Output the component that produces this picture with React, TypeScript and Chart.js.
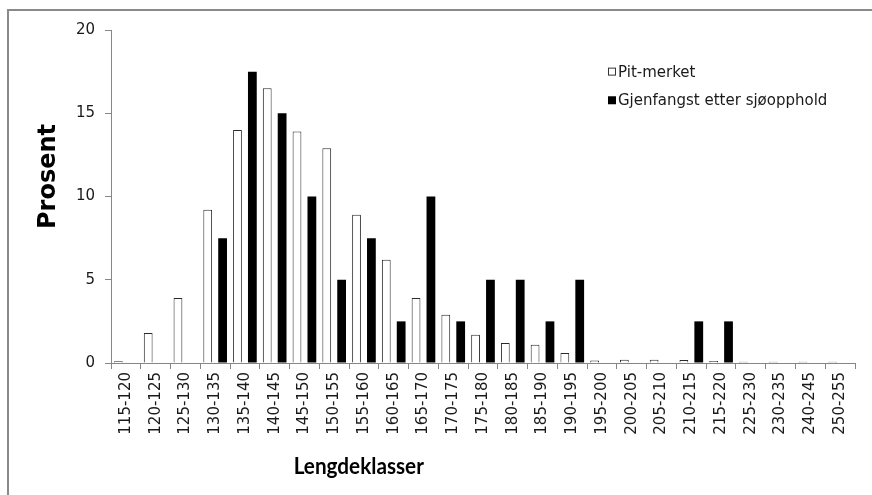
import React, { useEffect, useRef } from "react";
import { Chart, registerables } from "chart.js";

Chart.register(...registerables);

const categories = ["115-120","120-125","125-130","130-135","135-140","140-145","145-150","150-155","155-160","160-165","165-170","170-175","175-180","180-185","185-190","190-195","195-200","200-205","205-210","210-215","215-220","225-230","230-235","240-245","250-255"];
const pitMerket = [0.1,1.8,3.9,9.2,14.0,16.5,13.9,12.9,8.9,6.2,3.9,2.9,1.7,1.2,1.1,0.6,0.15,0.2,0.2,0.18,0.12,0.07,0.07,0.07,0.07];
const gjenfangst = [0,0,0,7.5,17.5,15.0,10.0,5.0,7.5,2.5,10.0,2.5,5.0,5.0,2.5,5.0,0,0,0,2.5,2.5,0,0,0,0];
const seriesNames = ["Pit-merket", "Gjenfangst etter sjøopphold"];
const yTitle = "Prosent";
const xTitle = "Lengdeklasser";

const AXIS = "#868686";
const TEXT = "#1a1a1a";

const decorPlugin = {
  id: "decor",
  beforeDraw(chart: any) {
    const ctx = chart.ctx;
    ctx.save();
    ctx.fillStyle = "#fff";
    ctx.fillRect(0, 0, chart.width, chart.height);
    ctx.strokeStyle = "#8a8a8a";
    ctx.lineWidth = 2;
    ctx.strokeRect(8, 10, chart.width + 50, chart.height + 50);
    ctx.restore();
  },
  afterDraw(chart: any) {
    const ctx = chart.ctx;
    const a = chart.chartArea;
    const w = a.right - a.left;
    const h = a.bottom - a.top;
    ctx.save();
    // axis titles
    ctx.fillStyle = "#000";
    ctx.save();
    ctx.translate(a.left + 0.333 * w, 474);
    ctx.scale(0.9, 1);
    ctx.font = "bold 23px Lato";
    ctx.textAlign = "center";
    ctx.textBaseline = "alphabetic";
    ctx.fillText(xTitle, 0, 0);
    ctx.restore();
    ctx.save();
    ctx.translate(55, a.top + 0.44 * h);
    ctx.rotate(-Math.PI / 2);
    ctx.font = "bold 24px 'DejaVu Sans'";
    ctx.textAlign = "center";
    ctx.fillText(yTitle, 0, 0);
    ctx.restore();
    // legend
    const lx = a.left + 0.668 * w;
    const ly0 = a.top + 0.125 * h;
    const gap = 0.086 * h;
    ctx.font = "15px 'DejaVu Sans'";
    ctx.textAlign = "left";
    ctx.textBaseline = "middle";
    chart.data.datasets.forEach((ds: any, i: number) => {
      const y = ly0 + i * gap;
      ctx.fillStyle = ds.backgroundColor;
      ctx.fillRect(lx, y - 4, 8, 8);
      if (ds.borderWidth) {
        ctx.strokeStyle = "#333";
        ctx.lineWidth = 1;
        ctx.strokeRect(lx + 0.5, y - 3.5, 7, 7);
      }
      ctx.fillStyle = TEXT;
      ctx.fillText(ds.label, lx + 10, y + 1);
    });
    ctx.restore();
  },
};

export default function App() {
  const ref = useRef<HTMLCanvasElement>(null);
  useEffect(() => {
    if (!ref.current) return;
    const chart = new Chart(ref.current, {
      type: "bar",
      data: {
        labels: categories,
        datasets: [
          {
            label: seriesNames[0],
            data: pitMerket,
            backgroundColor: "#ffffff",
            borderColor: "#2a2a2a",
            borderWidth: 1,
            barPercentage: 0.59,
            categoryPercentage: 1,
          },
          {
            label: seriesNames[1],
            data: gjenfangst,
            backgroundColor: "#000000",
            borderWidth: 0,
            barPercentage: 0.59,
            categoryPercentage: 1,
          },
        ],
      },
      options: {
        responsive: false,
        animation: false,
        devicePixelRatio: 1,
        layout: { padding: { left: 0, top: 30, right: 17, bottom: 0 } },
        plugins: {
          legend: { display: false },
          tooltip: { enabled: false },
        },
        scales: {
          x: {
            grid: {
              offset: true,
              drawOnChartArea: false,
              drawTicks: true,
              tickLength: 6,
              color: AXIS,
            },
            border: { display: true, color: AXIS, width: 1 },
            ticks: {
              minRotation: 90,
              maxRotation: 90,
              autoSkip: false,
              padding: 3,
              color: TEXT,
              font: { family: "'DejaVu Sans'", size: 15 },
            },
            afterFit: (s: any) => {
              s.height = 132;
            },
          },
          y: {
            min: 0,
            max: 20,
            grid: {
              drawOnChartArea: false,
              drawTicks: true,
              tickLength: 6,
              color: AXIS,
            },
            border: { display: true, color: AXIS, width: 1 },
            ticks: {
              stepSize: 5,
              padding: 10,
              color: TEXT,
              font: { family: "'DejaVu Sans'", size: 15 },
            },
            afterFit: (s: any) => {
              s.width = 111;
            },
          },
        },
      },
      plugins: [decorPlugin],
    });
    return () => chart.destroy();
  }, []);
  return (
    <div style={{ position: "absolute", left: 0, top: 0, width: 872, height: 495 }}>
      <canvas ref={ref} width={872} height={495} />
    </div>
  );
}
